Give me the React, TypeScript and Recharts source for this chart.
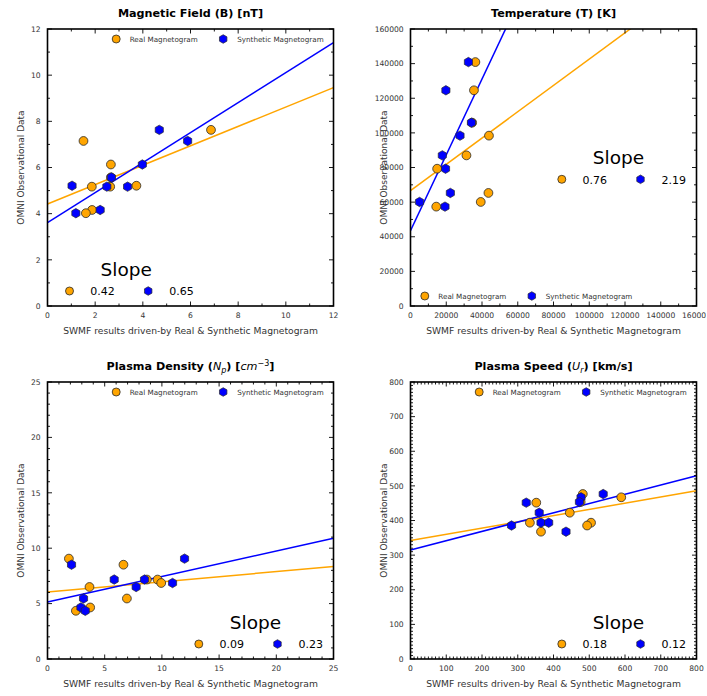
import React from "react";
import { ScatterChart, Scatter, XAxis, YAxis, ReferenceLine } from "recharts";

const FONT = "'DejaVu Sans', sans-serif";
const ORANGE = "#ffa500";
const BLUE = "#0000ff";
const EDGE = "#2a2a2a";

// plot area inside every panel
const PL = 47.5;
const PT = 29;
const PW = 286;
const PH = 277;
const CW = PL + PW + 10;
const CH = PT + PH + 40;

// Magnetic Field (B) [nT]
const bObserved = [7.63, 7.15, 6.13, 5.57, 5.21, 5.17, 5.17, 4.16, 4.02];
const bReal = [6.86, 1.51, 2.66, 2.66, 3.73, 1.86, 2.63, 1.87, 1.61];
const bSynthetic = [4.69, 5.88, 3.98, 2.68, 1.03, 2.49, 3.36, 2.21, 1.19];
const bFitSlope = [0.42, 0.65];
const bFitIntercept = [4.42, 3.61];
const bSlopeLabels = ["0.42", "0.65"];
const bMajor = [0, 2, 4, 6, 8, 10, 12];

// Temperature (T) [K]
const tObserved = [140900, 124600, 105900, 98400, 87000, 79300, 65300, 60100, 57400];
const tReal = [36300, 35500, 34500, 43900, 31300, 14900, 43600, 39300, 14400];
const tSynthetic = [32400, 19800, 34100, 27700, 17800, 19600, 22300, 5050, 19300];
const tFitSlope = [0.76, 2.19];
const tFitIntercept = [66600, 43500];
const tSlopeLabels = ["0.76", "2.19"];
const tMajor = [0, 20000, 40000, 60000, 80000, 100000, 120000, 140000, 160000];

// Plasma Density (Np) [cm^-3]
const nObserved = [9.06, 8.51, 7.17, 7.17, 6.86, 6.5, 5.46, 4.65, 4.35];
const nReal = [1.87, 6.64, 8.69, 9.62, 9.94, 3.67, 6.94, 3.73, 2.48];
const nSynthetic = [11.98, 2.1, 5.83, 8.48, 10.93, 7.75, 3.15, 2.92, 3.3];
const nFitSlope = [0.092, 0.23];
const nFitIntercept = [6.05, 5.15];
const nSlopeLabels = ["0.09", "0.23"];
const nMajor = [0, 5, 10, 15, 20, 25];

// Plasma Speed (Ur) [km/s]
const uObserved = [476.5, 467, 453.5, 451.5, 422.5, 393.7, 393.7, 385.5, 367.7];
const uReal = [482, 589.5, 476, 351.8, 445.5, 334, 505, 494, 365];
const uSynthetic = [539, 477, 472.5, 323.7, 360, 365, 386.5, 282.6, 435];
const uFitSlope = [0.18, 0.268];
const uFitIntercept = [342, 315];
const uSlopeLabels = ["0.18", "0.12"];
const uMajor = [0, 100, 200, 300, 400, 500, 600, 700, 800];

function stepTicks(max: number, step: number) {
  const out: number[] = [];
  for (let i = 0; i * step <= max + 1e-9; i++) out.push(Math.round(i * step * 1000) / 1000);
  return out;
}

function Dot(p: any) {
  if (p.cx == null) return null;
  return <circle cx={p.cx} cy={p.cy} r={4.4} fill={ORANGE} stroke={EDGE} strokeWidth={0.8} />;
}

function hexPoints(cx: number, cy: number, r: number) {
  const pts: string[] = [];
  for (let i = 0; i < 6; i++) {
    const a = (Math.PI / 3) * i - Math.PI / 2;
    pts.push(`${cx + r * Math.cos(a)},${cy + r * Math.sin(a)}`);
  }
  return pts.join(" ");
}

function Hex(p: any) {
  if (p.cx == null) return null;
  return <polygon points={hexPoints(p.cx, p.cy, 4.7)} fill={BLUE} stroke={EDGE} strokeWidth={0.7} />;
}

function makeXTick(major: number[]) {
  return (p: any) => {
    const v = p.payload.value;
    const isMajor = major.indexOf(v) >= 0;
    const len = isMajor ? 4.5 : 2.5;
    return (
      <g>
        <line x1={p.x} x2={p.x} y1={p.y} y2={p.y - len} stroke="#000" strokeWidth={0.9} />
        <line x1={p.x} x2={p.x} y1={p.y - PH} y2={p.y - PH + len} stroke="#000" strokeWidth={0.9} />
        {isMajor && (
          <text x={p.x} y={p.y + 12.3} textAnchor="middle" fontSize={7.6} fill="#333" fontFamily={FONT}>
            {v}
          </text>
        )}
      </g>
    );
  };
}

function makeYTick(major: number[]) {
  return (p: any) => {
    const v = p.payload.value;
    const isMajor = major.indexOf(v) >= 0;
    const len = isMajor ? 4.5 : 2.5;
    return (
      <g>
        <line x1={p.x} x2={p.x + len} y1={p.y} y2={p.y} stroke="#000" strokeWidth={0.9} />
        <line x1={p.x + PW} x2={p.x + PW - len} y1={p.y} y2={p.y} stroke="#000" strokeWidth={0.9} />
        {isMajor && (
          <text x={p.x - 6.8} y={p.y + 2.7} textAnchor="end" fontSize={7.6} fill="#333" fontFamily={FONT}>
            {v}
          </text>
        )}
      </g>
    );
  };
}

type PanelProps = {
  left: number;
  top: number;
  title: React.ReactNode;
  observed: number[];
  real: number[];
  synthetic: number[];
  max: number;
  major: number[];
  minorStep: number;
  fitSlope: number[];
  fitIntercept: number[];
  slopeLabels: string[];
  legendAtBottom?: boolean;
  slopeX: number;
  slopeY: number;
};

function Panel(props: PanelProps) {
  const { left, top, observed, real, synthetic, max, major, minorStep, fitSlope, fitIntercept } = props;
  const realPts = real.map((x, i) => ({ x, y: observed[i] }));
  const synthPts = synthetic.map((x, i) => ({ x, y: observed[i] }));
  const ticks = stepTicks(max, minorStep);
  const seg = (k: number) => [
    { x: 0, y: fitIntercept[k] },
    { x: max, y: fitIntercept[k] + fitSlope[k] * max },
  ];

  const legY = props.legendAtBottom ? PT + PH - 10 : PT + 10;
  const legX = props.legendAtBottom ? PL + 14.3 : PL + 68.7;
  const sx = PL + props.slopeX;
  const sy = PT + props.slopeY;

  return (
    <div style={{ position: "absolute", left, top, width: CW, height: CH }}>
      <ScatterChart width={CW} height={CH} margin={{ top: PT, right: 10, bottom: 0, left: 0 }}>
        <XAxis
          type="number"
          dataKey="x"
          domain={[0, max]}
          ticks={ticks}
          interval={0}
          tickSize={0}
          tickMargin={0}
          tickLine={false}
          axisLine={false}
          height={40}
          allowDataOverflow
          tick={makeXTick(major)}
        />
        <YAxis
          type="number"
          dataKey="y"
          domain={[0, max]}
          ticks={ticks}
          interval={0}
          tickSize={0}
          tickMargin={0}
          tickLine={false}
          axisLine={false}
          width={PL}
          allowDataOverflow
          tick={makeYTick(major)}
        />
        <Scatter data={realPts} shape={Dot} isAnimationActive={false} />
        <Scatter data={synthPts} shape={Hex} isAnimationActive={false} />
        <ReferenceLine segment={seg(0)} stroke={ORANGE} strokeWidth={1.5} ifOverflow="hidden" />
        <ReferenceLine segment={seg(1)} stroke={BLUE} strokeWidth={1.5} ifOverflow="hidden" />
      </ScatterChart>
      <svg
        width={CW}
        height={CH}
        style={{ position: "absolute", left: 0, top: 0, pointerEvents: "none", overflow: "visible" }}
        fontFamily={FONT}
      >
        <rect x={PL} y={PT} width={PW} height={PH} fill="none" stroke="#000" strokeWidth={1.6} />
        <text x={PL + PW / 2} y={PT - 12} textAnchor="middle" fontSize={11.2} fontWeight="bold" fill="#000">
          {props.title}
        </text>
        <text
          x={PL - 23.5}
          y={PT + PH / 2}
          transform={`rotate(-90 ${PL - 23.5} ${PT + PH / 2})`}
          textAnchor="middle"
          fontSize={9}
          fill="#333"
        >
          OMNI Observational Data
        </text>
        <text x={PL + PW / 2} y={PT + PH + 28} textAnchor="middle" fontSize={9.2} fill="#333">
          SWMF results driven-by Real &amp; Synthetic Magnetogram
        </text>

        <circle cx={legX} cy={legY} r={4} fill={ORANGE} stroke={EDGE} strokeWidth={0.8} />
        <text x={legX + 13.5} y={legY + 2.6} fontSize={7.2} fill="#333">
          Real Magnetogram
        </text>
        <polygon points={hexPoints(legX + 107, legY, 4.3)} fill={BLUE} stroke={EDGE} strokeWidth={0.7} />
        <text x={legX + 121} y={legY + 2.6} fontSize={7.2} fill="#333">
          Synthetic Magnetogram
        </text>

        <text x={sx} y={sy} textAnchor="middle" fontSize={18.5} fill="#000">
          Slope
        </text>
        <circle cx={sx - 56.7} cy={sy + 15} r={4} fill={ORANGE} stroke={EDGE} strokeWidth={0.8} />
        <text x={sx - 36} y={sy + 19.2} fontSize={11} fill="#000">
          {props.slopeLabels[0]}
        </text>
        <polygon points={hexPoints(sx + 22, sy + 15, 4.3)} fill={BLUE} stroke={EDGE} strokeWidth={0.7} />
        <text x={sx + 43} y={sy + 19.2} fontSize={11} fill="#000">
          {props.slopeLabels[1]}
        </text>
      </svg>
    </div>
  );
}

export default function App() {
  return (
    <div style={{ position: "absolute", left: 0, top: 0, width: 707, height: 696, background: "#fff" }}>
      <Panel
        left={0}
        top={0}
        title="Magnetic Field (B) [nT]"
        observed={bObserved}
        real={bReal}
        synthetic={bSynthetic}
        max={12}
        major={bMajor}
        minorStep={1}
        fitSlope={bFitSlope}
        fitIntercept={bFitIntercept}
        slopeLabels={bSlopeLabels}
        slopeX={78.7}
        slopeY={PH - 30}
      />
      <Panel
        left={362.5}
        top={0}
        title="Temperature (T) [K]"
        observed={tObserved}
        real={tReal}
        synthetic={tSynthetic}
        max={160000}
        major={tMajor}
        minorStep={10000}
        fitSlope={tFitSlope}
        fitIntercept={tFitIntercept}
        slopeLabels={tSlopeLabels}
        legendAtBottom
        slopeX={208}
        slopeY={135.3}
      />
      <Panel
        left={0}
        top={352.5}
        title={
          <>
            Plasma Density (
            <tspan fontStyle="italic" fontWeight="normal">N</tspan>
            <tspan fontStyle="italic" fontWeight="normal" fontSize={8} dy={2.5}>p</tspan>
            <tspan dy={-2.5}>) [</tspan>
            <tspan fontStyle="italic" fontWeight="normal">cm</tspan>
            <tspan fontWeight="normal" fontSize={8} dy={-4.5}>−3</tspan>
            <tspan dy={4.5}>]</tspan>
          </>
        }
        observed={nObserved}
        real={nReal}
        synthetic={nSynthetic}
        max={25}
        major={nMajor}
        minorStep={1}
        fitSlope={nFitSlope}
        fitIntercept={nFitIntercept}
        slopeLabels={nSlopeLabels}
        slopeX={208}
        slopeY={PH - 30}
      />
      <Panel
        left={362.5}
        top={352.5}
        title={
          <>
            Plasma Speed (
            <tspan fontStyle="italic" fontWeight="normal">U</tspan>
            <tspan fontStyle="italic" fontWeight="normal" fontSize={8} dy={2.5}>r</tspan>
            <tspan dy={-2.5}>) [km/s]</tspan>
          </>
        }
        observed={uObserved}
        real={uReal}
        synthetic={uSynthetic}
        max={800}
        major={uMajor}
        minorStep={10}
        fitSlope={uFitSlope}
        fitIntercept={uFitIntercept}
        slopeLabels={uSlopeLabels}
        slopeX={208}
        slopeY={PH - 30}
      />
    </div>
  );
}
